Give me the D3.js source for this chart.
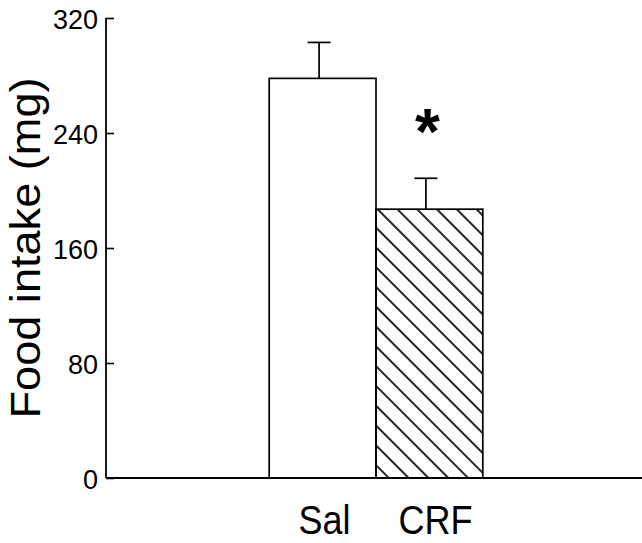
<!DOCTYPE html>
<html>
<head>
<meta charset="utf-8">
<script src="https://d3js.org/d3.v7.min.js"></script>
<style>
  body { margin: 0; background: #fff; }
  svg { display: block; }
  text { font-family: "Liberation Sans", Arial, sans-serif; fill: #000; }
</style>
</head>
<body>
<div id="chart"></div>
<script>
// chart data
const groups = ["Sal", "CRF"];
const meanIntake = [278, 187];
const semIntake = [25, 21.5];
const yTicks = [0, 80, 160, 240, 320];
const hatched = [false, true];

const width = 642;
const height = 543;
const axisX = 106;   // y axis position
const plotTop = 18;
const plotBottom = 478;

const svg = d3.select("#chart").append("svg")
  .attr("width", width)
  .attr("height", height);

// diagonal hatch for the CRF bar
const defs = svg.append("defs");
defs.append("pattern")
  .attr("id", "hatch")
  .attr("patternUnits", "userSpaceOnUse")
  .attr("width", 14)
  .attr("height", 14)
  .attr("patternTransform", "rotate(-45)")
  .append("line")
  .attr("x1", 7).attr("y1", 0)
  .attr("x2", 7).attr("y2", 14)
  .attr("stroke", "#000")
  .attr("stroke-width", 1.7);

const y = d3.scaleLinear().domain([0, 320]).range([plotBottom, plotTop]);

const x = d3.scaleBand()
  .domain(groups)
  .range([axisX + 3, width + 1])
  .paddingInner(0)
  .paddingOuter(1.5);

// bars
svg.selectAll("rect.bar")
  .data(groups)
  .join("rect")
  .attr("class", "bar")
  .attr("x", d => x(d))
  .attr("y", (d, i) => y(meanIntake[i]))
  .attr("width", x.bandwidth())
  .attr("height", (d, i) => y(0) - y(meanIntake[i]))
  .attr("fill", (d, i) => hatched[i] ? "url(#hatch)" : "#fff")
  .attr("stroke", "#000")
  .attr("stroke-width", 1.7);

// error bars (upper only)
const capHalf = 11.5;
groups.forEach((g, i) => {
  const cx = x(g) + x.bandwidth() / 2 - 3.5;
  const yTop = y(meanIntake[i] + semIntake[i]);
  svg.append("line")
    .attr("x1", cx).attr("x2", cx)
    .attr("y1", y(meanIntake[i])).attr("y2", yTop)
    .attr("stroke", "#000").attr("stroke-width", 1.7);
  svg.append("line")
    .attr("x1", cx - capHalf).attr("x2", cx + capHalf)
    .attr("y1", yTop).attr("y2", yTop)
    .attr("stroke", "#000").attr("stroke-width", 1.7);
});

// significance marker above CRF
const crfIdx = groups.indexOf("CRF");
svg.append("text")
  .attr("x", x("CRF") + x.bandwidth() / 2 - 2)
  .attr("y", y(meanIntake[crfIdx] + semIntake[crfIdx]) - 24)
  .attr("text-anchor", "middle")
  .attr("font-size", 64)
  .attr("font-weight", "bold")
  .text("*");

// y axis, ticks point inward
const yAxis = svg.append("g")
  .attr("transform", `translate(${axisX},0)`)
  .call(d3.axisRight(y).tickValues(yTicks).tickSize(8).tickFormat(""));
yAxis.select(".domain").remove();
yAxis.selectAll(".tick line").attr("stroke-width", 1.6);

svg.append("line")
  .attr("x1", axisX).attr("x2", axisX)
  .attr("y1", plotTop).attr("y2", plotBottom)
  .attr("stroke", "#000").attr("stroke-width", 1.8);

svg.selectAll("text.ytick")
  .data(yTicks)
  .join("text")
  .attr("class", "ytick")
  .attr("x", axisX - 8)
  .attr("y", d => y(d) + 2)
  .attr("dy", "0.35em")
  .attr("text-anchor", "end")
  .attr("font-size", 27)
  .text(d => d);

// x axis line
svg.append("line")
  .attr("x1", axisX).attr("x2", width)
  .attr("y1", plotBottom).attr("y2", plotBottom)
  .attr("stroke", "#000").attr("stroke-width", 2);

// category labels
const labelWidths = [52, 74];
svg.selectAll("text.xlab")
  .data(groups)
  .join("text")
  .attr("class", "xlab")
  .attr("x", (d, i) => x(d) + x.bandwidth() / 2 + 2 + i * 4)
  .attr("y", 534)
  .attr("text-anchor", "middle")
  .attr("font-size", 40)
  .attr("textLength", (d, i) => labelWidths[i])
  .attr("lengthAdjust", "spacingAndGlyphs")
  .text(d => d);

// y axis title
svg.append("text")
  .attr("transform", `translate(40,248) rotate(-90)`)
  .attr("text-anchor", "middle")
  .attr("font-size", 42)
  .attr("textLength", 341)
  .attr("lengthAdjust", "spacingAndGlyphs")
  .text("Food intake (mg)");
</script>
</body>
</html>
